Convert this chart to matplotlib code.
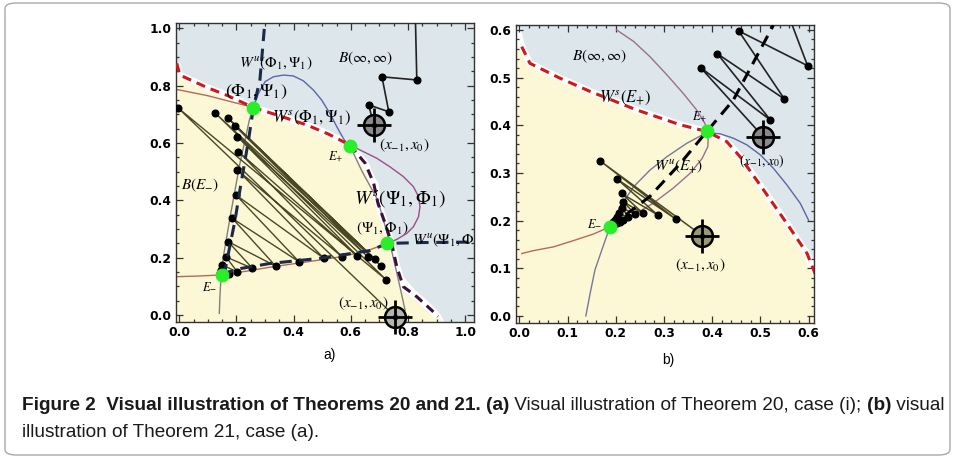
import matplotlib
matplotlib.use("Agg")
import matplotlib.pyplot as plt
from matplotlib.patches import FancyBboxPatch
from matplotlib.ticker import MultipleLocator

plt.rcParams['mathtext.fontset'] = 'stix'
plt.rcParams['font.family'] = 'DejaVu Sans'

W, H = 955, 458
BLUE_BG = '#dce6eb'
YELLOW_BG = '#fcf8d6'

# ---------------- panel a data ----------------
# stable manifold of (Phi1, Psi1): boundary between the basins (red dashed part)
a_ws_top_x = [-0.009, 0.002, 0.096, 0.17, 0.259, 0.35, 0.446, 0.52, 0.597]
a_ws_top_y = [0.878, 0.837, 0.794, 0.765, 0.724, 0.695, 0.663, 0.632, 0.593]
# lower part of the boundary (stable manifold of (Psi1, Phi1))
a_ws_low_x = [0.597, 0.65, 0.68, 0.695, 0.72, 0.743, 0.761, 0.784, 0.831, 0.883, 0.905]
a_ws_low_y = [0.593, 0.53, 0.46, 0.39, 0.32, 0.25, 0.168, 0.099, 0.064, 0.017, -0.005]
# edge of the blue basin right of the lower boundary (white gap between)
a_blue_edge_x = [0.597, 0.662, 0.697, 0.705, 0.72, 0.755, 0.784, 0.825, 0.866, 0.912, 0.93]
a_blue_edge_y = [0.6, 0.517, 0.459, 0.40, 0.33, 0.227, 0.134, 0.087, 0.052, 0.006, -0.03]
# thin gray curve through E- and (Phi1, Psi1)
a_gray_x = [0.14, 0.142, 0.146, 0.154, 0.166, 0.18, 0.195, 0.212, 0.23, 0.245, 0.259]
a_gray_y = [0.006, 0.064, 0.134, 0.203, 0.273, 0.355, 0.436, 0.529, 0.61, 0.68, 0.727]
# blue arc from (Phi1, Psi1) to E+
a_arc_x = [0.259, 0.277, 0.300, 0.329, 0.364, 0.399, 0.434, 0.469, 0.498, 0.527, 0.551, 0.574, 0.597]
a_arc_y = [0.727, 0.773, 0.814, 0.831, 0.837, 0.834, 0.817, 0.785, 0.75, 0.703, 0.657, 0.616, 0.587]
# gray curve from E+ down
a_gray2_x = [0.597, 0.64, 0.695, 0.737, 0.772, 0.79]
a_gray2_y = [0.59, 0.5, 0.4, 0.25, 0.099, 0.017]
# purple arc from E+ to (Psi1, Phi1)
a_purp_x = [0.597, 0.644, 0.691, 0.737, 0.784, 0.819, 0.837, 0.842, 0.837, 0.819, 0.796, 0.761, 0.728]
a_purp_y = [0.593, 0.57, 0.547, 0.517, 0.483, 0.448, 0.413, 0.378, 0.343, 0.308, 0.285, 0.264, 0.25]
# thin brown curves
a_brown_top_x = [-0.01, 0.1, 0.259]
a_brown_top_y = [0.787, 0.765, 0.724]
a_brown_low_x = [-0.01, 0.06, 0.148, 0.24, 0.329, 0.45, 0.562, 0.65, 0.728]
a_brown_low_y = [0.134, 0.136, 0.14, 0.154, 0.169, 0.186, 0.203, 0.222, 0.25]
# unstable manifolds (navy dashed)
a_wu_h_x = [0.148, 0.2, 0.317, 0.492, 0.667, 0.728, 0.85, 1.05]
a_wu_h_y = [0.14, 0.16, 0.18, 0.198, 0.225, 0.25, 0.253, 0.255]
a_wu_v_x = [0.148, 0.16, 0.195, 0.212, 0.242, 0.259, 0.282, 0.3]
a_wu_v_y = [0.14, 0.157, 0.331, 0.436, 0.61, 0.721, 0.82, 1.03]
# equilibria / period-two points (green)
a_eq_x = [0.148, 0.259, 0.597, 0.728]
a_eq_y = [0.14, 0.721, 0.59, 0.25]
# orbits x_{-1}, x_0, x_1, ...
a_orbit = [0.755, -0.005, 0.723, 0.124, 0.706, 0.171, 0.686, 0.194, 0.660, 0.203,
           0.622, 0.207, 0.570, 0.203, 0.506, 0.198, 0.419, 0.186, 0.337, 0.171,
           0.256, 0.163, 0.203, 0.151, 0.174, 0.145, 0.156, 0.142, 0.148, 0.141]
a_escape = [0.68, 0.663, 0.733, 0.709, 0.831, 0.82, 1.3]

# ---------------- panel b data ----------------
b_ws_x = [-0.005, 0.005, 0.022, 0.084, 0.147, 0.244, 0.334, 0.389, 0.43, 0.458, 0.507, 0.555, 0.597, 0.615]
b_ws_y = [0.605, 0.565, 0.530, 0.499, 0.471, 0.432, 0.401, 0.387, 0.366, 0.334, 0.264, 0.194, 0.131, 0.085]
b_gray_x = [0.138, 0.147, 0.157, 0.171, 0.188, 0.209, 0.237, 0.271, 0.306, 0.347, 0.389]
b_gray_y = [0.0, 0.048, 0.097, 0.138, 0.187, 0.229, 0.271, 0.306, 0.334, 0.362, 0.385]
b_blue_x = [0.389, 0.417, 0.444, 0.472, 0.5, 0.527, 0.555, 0.583, 0.6]
b_blue_y = [0.385, 0.382, 0.373, 0.359, 0.338, 0.31, 0.275, 0.236, 0.201]
b_mauve_x = [0.202, 0.237, 0.271, 0.306, 0.34, 0.368, 0.385, 0.392, 0.391, 0.379, 0.354,
             0.319, 0.277, 0.237, 0.209, 0.188]
b_mauve_y = [0.6, 0.576, 0.544, 0.506, 0.467, 0.432, 0.404, 0.379, 0.355, 0.33, 0.299,
             0.268, 0.236, 0.212, 0.198, 0.187]
b_brown_x = [0.188, 0.154, 0.112, 0.071, 0.029, 0.005]
b_brown_y = [0.187, 0.172, 0.158, 0.145, 0.137, 0.131]
b_wu_x = [0.188, 0.27, 0.334, 0.389, 0.444, 0.527]
b_wu_y = [0.187, 0.25, 0.32, 0.387, 0.453, 0.61]
b_eq_x = [0.188, 0.389]
b_eq_y = [0.187, 0.387]
b_orbit = [0.38, 0.168, 0.325, 0.203, 0.287, 0.212, 0.257, 0.215, 0.240, 0.214,
           0.226, 0.207, 0.215, 0.202, 0.208, 0.198, 0.202, 0.195, 0.197, 0.192,
           0.193, 0.19, 0.19]
b_escape = [0.506, 0.376, 0.521, 0.411, 0.55, 0.455, 0.598, 0.525, 0.72]


def style_axes(ax, major, minor, xlim, ylim):
    ax.set_xlim(*xlim)
    ax.set_ylim(*ylim)
    for axis in (ax.xaxis, ax.yaxis):
        axis.set_major_locator(MultipleLocator(major))
        axis.set_minor_locator(MultipleLocator(minor))
    ax.tick_params(which='both', direction='in', top=True, right=True,
                   width=0.9, color='#333333', labelsize=8.8, pad=3)
    ax.tick_params(which='major', length=5)
    ax.tick_params(which='minor', length=2.5)
    for lab in ax.get_xticklabels() + ax.get_yticklabels():
        lab.set_fontweight('bold')
    for sp in ax.spines.values():
        sp.set_color('#333333')
        sp.set_linewidth(1.0)


def draw_basins(ax, bx, by, x0, x1, y0):
    ax.set_facecolor(BLUE_BG)
    px = list(bx) + [x1, x0, x0]
    py = list(by) + [y0, y0, by[0]]
    ax.fill(px, py, color=YELLOW_BG, lw=0, zorder=0)
    ax.plot(bx, by, color='white', lw=5, solid_capstyle='butt', zorder=1)


def draw_orbit(ax, seq, color, lw):
    xs, ys = seq[:-1], seq[1:]
    ax.plot(xs, ys, color=color, lw=lw, zorder=4)
    ax.plot(xs[1:], ys[1:], 'o', color='black', ms=4.8, zorder=5)


def draw_target(ax, x, y, face):
    ax.plot(x, y, 'o', ms=15, mfc=face, mec='black', mew=1.8, zorder=7, clip_on=False)
    ax.plot(x, y, '+', ms=24, mec='black', mew=2, zorder=8, clip_on=False)
    ax.plot(x, y, 'o', ms=3, color='black', zorder=9, clip_on=False)


def label(ax, x, y, s, size=11, **kw):
    ax.text(x, y, s, fontsize=size, ha='center', va='center', zorder=10, **kw)


fig = plt.figure(figsize=(W / 100, H / 100), dpi=100)

# ---------------- panel a ----------------
ax = fig.add_axes([0.184, 0.2976, 0.3123, 0.6528])
draw_basins(ax, a_ws_top_x + a_ws_low_x[1:], a_ws_top_y + a_ws_low_y[1:], -0.03, 0.95, -0.05)
ax.fill(a_ws_low_x + a_blue_edge_x[::-1], a_ws_low_y + a_blue_edge_y[::-1],
        color='white', lw=0, zorder=1)
ax.plot(a_brown_top_x, a_brown_top_y, color='#b56a58', lw=1, zorder=2)
ax.plot(a_brown_low_x, a_brown_low_y, color='#b56a58', lw=1, zorder=2)
ax.plot(a_gray_x, a_gray_y, color='#808080', lw=1, zorder=2)
ax.plot(a_arc_x, a_arc_y, color='#5a67a8', lw=1, zorder=2)
ax.plot(a_gray2_x, a_gray2_y, color='#808080', lw=1, zorder=2)
ax.plot(a_purp_x, a_purp_y, color='#9a4f8c', lw=1, zorder=2)
ax.plot(a_ws_top_x, a_ws_top_y, color='#d01818', lw=2.2, ls=(0, (3, 2)), zorder=3)
ax.plot(a_ws_low_x, a_ws_low_y, color='#3c0f3c', lw=2.2, ls=(0, (3, 2)), zorder=3)
draw_orbit(ax, a_orbit, '#4a4822', 1.0)
draw_orbit(ax, a_escape, '#222222', 1.2)
ax.plot(a_wu_h_x, a_wu_h_y, color='#1b2a48', lw=2.2, ls=(0, (4, 2.5)), zorder=6)
ax.plot(a_wu_v_x, a_wu_v_y, color='#1b2a48', lw=2.2, ls=(0, (4, 2.5)), zorder=6)
ax.plot(a_eq_x, a_eq_y, 'o', color='#2bee2b', ms=9, zorder=7)
draw_target(ax, a_escape[0], a_escape[1], '#8a8a8a')
draw_target(ax, a_orbit[0], a_orbit[1], '#b4b4b0')

label(ax, 0.652, 0.895, r'$B(\infty,\infty)$')
label(ax, 0.337, 0.878, r'$W^{u}(\Phi_1,\Psi_1)$')
label(ax, 0.268, 0.779, r'$(\Phi_1,\Psi_1)$', 13)
label(ax, 0.463, 0.686, r'$W^{s}(\Phi_1,\Psi_1)$', 12)
label(ax, 0.786, 0.593, r'$(x_{-1},x_0)$')
label(ax, 0.546, 0.552, r'$E_{+}$', 9)
label(ax, 0.072, 0.453, r'$B(E_{-})$')
label(ax, 0.772, 0.407, r'$W^{s}(\Psi_1,\Phi_1)$', 14)
label(ax, 0.711, 0.302, r'$(\Psi_1,\Phi_1)$')
ax.text(0.813, 0.262, r'$W^{u}(\Psi_1,\Phi_1)$', fontsize=11, ha='left', va='center',
        zorder=10, clip_on=True)
label(ax, 0.107, 0.099, r'$E_{-}$', 9)
label(ax, 0.644, 0.041, r'$(x_{-1},x_0)$')
style_axes(ax, 0.2, 0.05, (-0.0126, 1.031), (-0.023, 1.0196))
fig.text(330 / W, 1 - 355 / H, 'a)', fontsize=10, family='Liberation Sans', ha='center', va='center')

# ---------------- panel b ----------------
ax = fig.add_axes([0.540, 0.2948, 0.3127, 0.6507])
draw_basins(ax, b_ws_x, b_ws_y, -0.02, 0.63, -0.03)
ax.plot(b_brown_x, b_brown_y, color='#b56a58', lw=1, zorder=2)
ax.plot(b_gray_x, b_gray_y, color='#77789a', lw=1, zorder=2)
ax.plot(b_blue_x, b_blue_y, color='#5a67a8', lw=1, zorder=2)
ax.plot(b_mauve_x, b_mauve_y, color='#9a7090', lw=1, zorder=2)
ax.plot(b_ws_x[1:], b_ws_y[1:], color='#d01818', lw=2.2, ls=(0, (3, 2)), zorder=3)
draw_orbit(ax, b_orbit, '#4a4822', 1.1)
draw_orbit(ax, b_escape, '#222222', 1.2)
ax.plot(b_wu_x, b_wu_y, color='black', lw=2.2, ls=(0, (4, 2.5)), zorder=6)
ax.plot(b_eq_x, b_eq_y, 'o', color='#2bee2b', ms=9, zorder=7)
draw_target(ax, b_escape[0], b_escape[1], '#8a8a8a')
draw_target(ax, b_orbit[0], b_orbit[1], '#9a9a72')

label(ax, 0.167, 0.544, r'$B(\infty,\infty)$')
label(ax, 0.219, 0.457, r'$W^{s}(E_{+})$', 12)
label(ax, 0.375, 0.418, r'$E_{+}$', 9)
label(ax, 0.503, 0.324, r'$(x_{-1},x_0)$', 10)
label(ax, 0.33, 0.313, r'$W^{u}(E_{+})$')
label(ax, 0.157, 0.194, r'$E_{-}$', 9)
label(ax, 0.376, 0.107, r'$(x_{-1},x_0)$')
style_axes(ax, 0.1, 0.02, (-0.0075, 0.612), (-0.0147, 0.6105))
fig.text(668 / W, 1 - 360 / H, 'b)', fontsize=10, family='Liberation Sans', ha='center', va='center')

# ---------------- frame and caption ----------------
fig.patches.append(FancyBboxPatch((5 / W, 3 / H), 945 / W, 452 / H,
                                  boxstyle='round,pad=0,rounding_size=0.012',
                                  transform=fig.transFigure, fc='none',
                                  ec='#a8a8a8', lw=1))

cap1 = [("Figure 2  Visual illustration of Theorems 20 and 21. (a)", 'bold'),
        (" Visual illustration of Theorem 20, case (i); ", 'normal'),
        ("(b)", 'bold'),
        (" visual", 'normal')]
cap2 = [("illustration of Theorem 21, case (a).", 'normal')]


def write_runs(runs, x0, y, size):
    renderer = fig.canvas.get_renderer()
    x = x0
    texts = []
    for s, w in runs:
        t = fig.text(x / W, 1 - y / H, s, fontsize=size, fontweight=w,
                     family='Liberation Sans', color='#1a1a1a', va='baseline', ha='left')
        x += t.get_window_extent(renderer).width
        texts.append(t)
    return x - x0, texts


size = 12
width, texts = write_runs(cap1, 22, 410, size)
for t in texts:
    t.remove()
size = size * 923 / width
write_runs(cap1, 22, 410, size)
write_runs(cap2, 22, 437, size)

fig.savefig('out.png', dpi=100)
